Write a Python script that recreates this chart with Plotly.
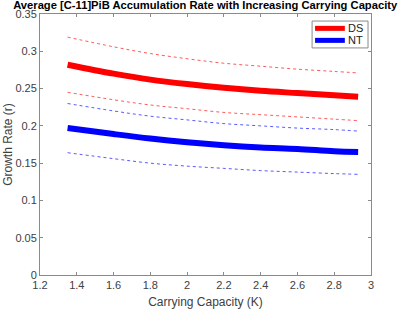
import plotly.graph_objects as go

K = [1.35, 1.6, 1.8, 2.0, 2.2, 2.4, 2.6, 2.8, 2.93]
ds_mean = [0.282, 0.270, 0.262, 0.256, 0.251, 0.247, 0.244, 0.241, 0.239]
ds_upper = [0.319, 0.306, 0.297, 0.290, 0.284, 0.280, 0.276, 0.273, 0.271]
ds_lower = [0.245, 0.235, 0.228, 0.223, 0.218, 0.215, 0.212, 0.209, 0.207]
nt_mean = [0.197, 0.189, 0.183, 0.178, 0.174, 0.171, 0.169, 0.166, 0.165]
nt_upper = [0.230, 0.220, 0.213, 0.208, 0.203, 0.200, 0.197, 0.195, 0.193]
nt_lower = [0.164, 0.156, 0.150, 0.146, 0.143, 0.140, 0.138, 0.136, 0.135]

series_names = ["DS", "NT"]
series_colors = ["#ff0000", "#0000ff"]

x_ticks = [1.2, 1.4, 1.6, 1.8, 2, 2.2, 2.4, 2.6, 2.8, 3]
y_ticks = [0, 0.05, 0.1, 0.15, 0.2, 0.25, 0.3, 0.35]

fig = go.Figure()
for ys, col in [(ds_upper, "rgba(255,0,0,0.65)"), (ds_lower, "rgba(255,0,0,0.65)"),
                (nt_upper, "rgba(0,0,255,0.65)"), (nt_lower, "rgba(0,0,255,0.65)")]:
    fig.add_trace(go.Scatter(x=K, y=ys, mode="lines", showlegend=False,
                             line=dict(color=col, width=1, dash="dot", shape="spline")))
for ys, name, col in [(ds_mean, series_names[0], series_colors[0]),
                      (nt_mean, series_names[1], series_colors[1])]:
    fig.add_trace(go.Scatter(x=K, y=ys, mode="lines", name=name, showlegend=False,
                             line=dict(color=col, width=6, shape="spline")))

# legend box (MATLAB-style compact legend)
fig.add_shape(type="rect", xref="paper", yref="paper", x0=0.822, x1=0.991, y0=0.870, y1=0.973,
              line=dict(color="#8a8a8a", width=1), fillcolor="white", layer="above")
for i, (name, col) in enumerate(zip(series_names, series_colors)):
    yy = 0.945 - i * 0.046
    fig.add_shape(type="line", xref="paper", yref="paper", x0=0.831, x1=0.921, y0=yy, y1=yy,
                  line=dict(color=col, width=5), layer="above")
    fig.add_annotation(xref="paper", yref="paper", x=0.924, y=yy, text=name, showarrow=False,
                       xanchor="left", yanchor="middle", font=dict(size=11, color="#222"))

axis_common = dict(showline=True, linecolor="#8a8a8a", linewidth=1, mirror="ticks",
                   ticks="inside", ticklen=3, tickcolor="#8a8a8a", showgrid=False,
                   zeroline=False, automargin=False, tickfont=dict(size=11, color="#404040"))
fig.update_layout(
    width=400, height=309, showlegend=False,
    margin=dict(l=40, r=29, t=14, b=34, autoexpand=False),
    paper_bgcolor="white", plot_bgcolor="white",
    font=dict(family="Liberation Sans, Arial, sans-serif", color="#404040"),
    title=dict(text="<b>Average [C-11]PiB Accumulation Rate with Increasing Carrying Capacity</b>",
               x=0.513, xanchor="center", y=0.995, yanchor="top", automargin=False,
               font=dict(size=11.2, color="black")),
    xaxis=dict(range=[1.2, 3], tickvals=x_ticks, ticktext=[str(v) for v in x_ticks],
               title=dict(text="Carrying Capacity (K)", font=dict(size=12, color="#404040"), standoff=7),
               **axis_common),
    yaxis=dict(range=[0, 0.35], tickvals=y_ticks, ticktext=[str(v) for v in y_ticks],
               title=dict(text="Growth Rate (r)", font=dict(size=12, color="#404040"), standoff=0),
               **axis_common),
)
fig.write_html("out.html", config={"displayModeBar": False},
               post_script="document.body.style.margin='0';document.body.style.padding='0';")
